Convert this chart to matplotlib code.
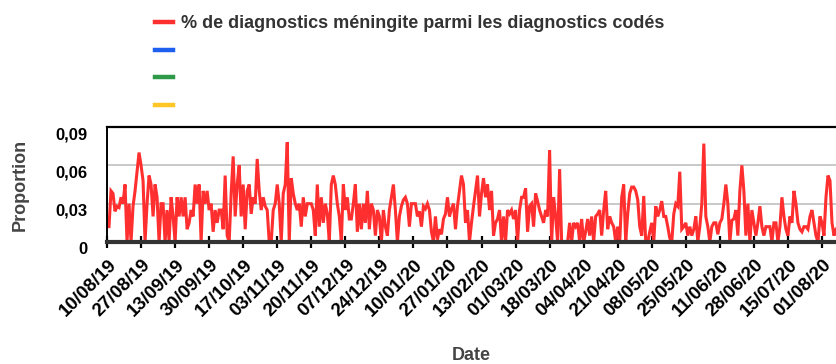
import numpy as np
import pandas as pd
import matplotlib
matplotlib.use('Agg')
import matplotlib.pyplot as plt
import matplotlib.dates as mdates
import matplotlib.transforms as mtransforms
from matplotlib.lines import Line2D

plt.rcParams['font.family'] = ['Liberation Sans', 'DejaVu Sans']
plt.rcParams['font.weight'] = 'bold'

start_date = '2019-08-10'

# daily share of meningitis among coded diagnoses, one list per month
aug_2019 = [.012, .012, .040, .038, .024, .028, .027, .035, .030, .045, .000,
            .030, .000, .028, .040, .055, .070, .060, .048, .000, .030, .052]
sep_2019 = [.045, .020, .045, .035, .000, .030, .030, .000, .025, .000, .035,
            .020, .000, .035, .020, .035, .020, .035, .010, .015, .025, .020,
            .045, .030, .045, .000, .040, .030, .040, .025]
oct_2019 = [.030, .008, .025, .015, .025, .025, .010, .052, .005, .000, .038,
            .067, .020, .045, .060, .020, .045, .010, .040, .045, .022, .035,
            .030, .065, .040, .025, .035, .028, .025, .000, .000]
nov_2019 = [.025, .030, .045, .030, .000, .038, .045, .078, .000, .050, .038,
            .030, .025, .030, .012, .035, .020, .030, .030, .030, .025, .005,
            .045, .012, .035, .015, .030, .022, .000, .045]
dec_2019 = [.052, .045, .030, .020, .000, .045, .025, .035, .018, .018, .030,
            .045, .008, .030, .010, .030, .015, .040, .010, .030, .025, .005,
            .025, .020, .000, .025, .012, .005, .025, .035, .045]
jan_2020 = [.025, .000, .020, .028, .033, .035, .030, .012, .030, .030, .030,
            .020, .024, .012, .028, .026, .030, .025, .008, .000, .020, .002,
            .010, .006, .018, .022, .035, .020, .026, .030, .010]
feb_2020 = [.028, .040, .052, .045, .015, .025, .000, .015, .028, .040, .052,
            .020, .038, .050, .035, .045, .025, .040, .005, .015, .018, .025,
            .000, .020, .000, .025, .022, .025, .018]
mar_2020 = [.025, .000, .025, .035, .035, .042, .008, .028, .030, .012, .038,
            .032, .025, .020, .015, .025, .020, .072, .000, .035, .020, .000,
            .057, .000, .000, .000, .000, .015, .000, .015, .012]
apr_2020 = [.015, .000, .018, .000, .008, .018, .005, .020, .000, .020, .022,
            .025, .005, .025, .040, .010, .020, .015, .012, .000, .012, .000,
            .035, .045, .000, .022, .038, .043, .043, .040]
may_2020 = [.033, .012, .005, .036, .000, .000, .008, .015, .000, .028, .020,
            .025, .032, .020, .020, .012, .003, .000, .022, .030, .028, .055,
            .010, .012, .015, .005, .012, .005, .010, .020, .000]
jun_2020 = [.012, .030, .077, .020, .012, .000, .012, .015, .015, .006, .015,
            .018, .030, .045, .030, .000, .017, .018, .025, .005, .040, .060,
            .040, .005, .030, .000, .025, .015, .005, .015]
jul_2020 = [.028, .012, .005, .012, .012, .012, .000, .015, .015, .000, .012,
            .035, .020, .010, .005, .020, .015, .040, .030, .015, .010, .008,
            .012, .012, .010, .020, .025, .015, .005, .000, .020]
aug_2020 = [.015, .005, .035, .052, .048, .015, .005, .010]

series_label = '% de diagnostics méningite parmi les diagnostics codés'
y_ticks = [0, 0.03, 0.06, 0.09]
y_tick_labels = ['0', '0,03', '0,06', '0,09']

values = np.concatenate([aug_2019, sep_2019, oct_2019, nov_2019, dec_2019,
                         jan_2020, feb_2020, mar_2020, apr_2020, may_2020,
                         jun_2020, jul_2020, aug_2020])
dates = pd.date_range(start_date, periods=len(values), freq='D')

W, H = 836, 364
fig = plt.figure(figsize=(W / 100, H / 100), dpi=100)
ax = fig.add_axes([107 / W, (H - 242) / H, (W - 107) / W, 115 / H])

red = '#ff2f2f'
ax.plot(dates, values, color=red, lw=2.2, solid_joinstyle='miter')

ax.set_xlim(dates[0], dates[-1])
ax.set_ylim(0, 0.09)

ax.set_yticks(y_ticks)
ax.set_yticklabels(y_tick_labels)
ax.yaxis.grid(True, color='#c0c0c0', lw=1.2)
ax.set_axisbelow(True)
ax.tick_params(axis='y', length=0, pad=14, labelsize=12, labelcolor='black')
for lbl in ax.get_yticklabels():
    lbl.set_va('top')

ticks = dates[::17]
ax.set_xticks(ticks)
ax.xaxis.set_major_formatter(mdates.DateFormatter('%d/%m/%y'))
ax.tick_params(axis='x', direction='inout', length=9, width=1.6,
               color='black', pad=6, labelsize=13.5)
shift = mtransforms.ScaledTranslation(1 / 100, 0, fig.dpi_scale_trans)
for lbl in ax.get_xticklabels():
    lbl.set_rotation(45)
    lbl.set_ha('right')
    lbl.set_va('top')
    lbl.set_rotation_mode('anchor')
    lbl.set_transform(lbl.get_transform() + shift)

ax.spines['right'].set_visible(False)
ax.spines['top'].set_linewidth(1.6)
ax.spines['left'].set_linewidth(1.4)
ax.spines['bottom'].set_linewidth(3)
ax.spines['bottom'].set_color('#333333')

ax.set_xlabel('Date', fontsize=13, fontweight='bold', color='#444444',
              va='center')
ax.xaxis.set_label_coords(0.5, (242 - 355) / 115)
ax.set_ylabel('Proportion', fontsize=13, fontweight='bold', color='#444444',
              va='center')
ax.yaxis.set_label_coords((20 - 107) / 729, 0.5)

handles = [Line2D([], [], color=c, lw=3.2)
           for c in [red, '#1f5ff0', '#2e9a48', '#ffc627']]
fig.legend(handles, [series_label, ' ', ' ', ' '], loc='upper left',
           bbox_to_anchor=(146 / W, 1 - 6 / H), frameon=False,
           fontsize=13, labelcolor='#333333', handlelength=1.0,
           handletextpad=0.45, labelspacing=0.6, borderpad=0)

fig.savefig('out.png', dpi=100)
